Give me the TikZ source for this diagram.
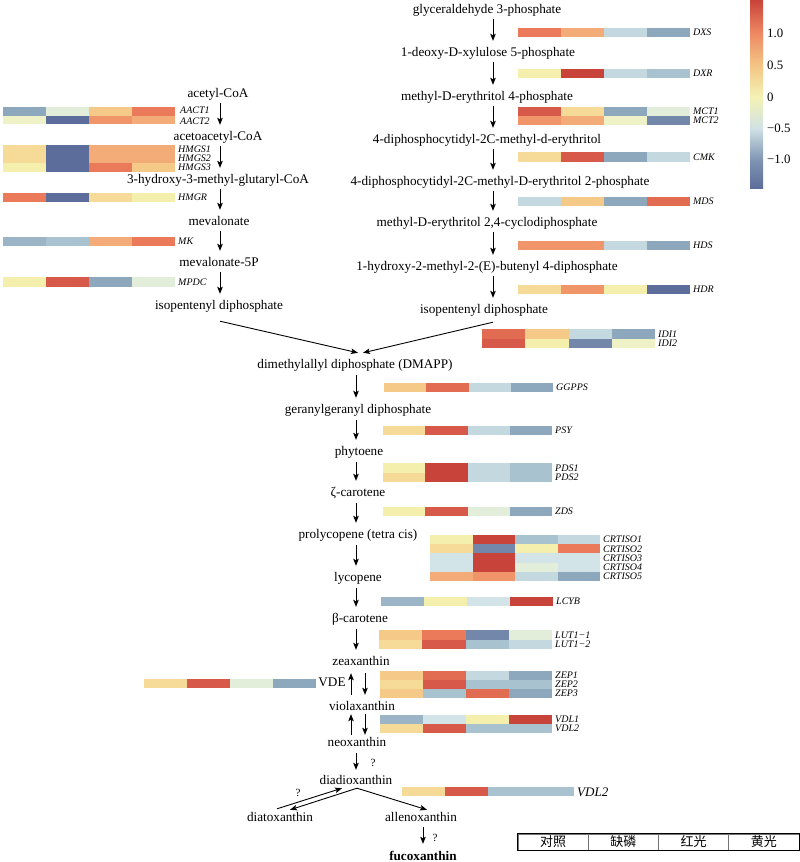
\documentclass[tikz,border=0pt]{standalone}
\usepackage{fontspec}
\setmainfont{Liberation Serif}
\newfontfamily\cjk{Noto Sans CJK SC}
\usetikzlibrary{arrows.meta}
\definecolor{R5}{HTML}{C8433A}
\definecolor{R4}{HTML}{D6594A}
\definecolor{R34}{HTML}{E26C52}
\definecolor{R3}{HTML}{EB7A5B}
\definecolor{O2}{HTML}{F0956A}
\definecolor{R2}{HTML}{F3AC78}
\definecolor{R1}{HTML}{F5C987}
\definecolor{Y1}{HTML}{F5DB97}
\definecolor{Y0}{HTML}{F5EFAD}
\definecolor{YG}{HTML}{EEF2C6}
\definecolor{G1}{HTML}{E3EEDA}
\definecolor{B1}{HTML}{D3E4E8}
\definecolor{B2}{HTML}{C3D8DF}
\definecolor{B3}{HTML}{A9C2CF}
\definecolor{B34}{HTML}{9BB5C7}
\definecolor{B4}{HTML}{8DA7BD}
\definecolor{B5}{HTML}{7287A9}
\definecolor{B6}{HTML}{5D6D9B}
\definecolor{cbB}{HTML}{7E94B2}
\definecolor{cbLB}{HTML}{D0E1E5}
\definecolor{cbY}{HTML}{F4F2B4}
\definecolor{cbO}{HTML}{F4C585}
\definecolor{cbR}{HTML}{EE8A64}
\pgfdeclareverticalshading{cbar}{100bp}{color(0bp)=(B6); color(25bp)=(B6); color(32.4bp)=(cbB); color(40.8bp)=(cbLB); color(49.2bp)=(cbY); color(57.6bp)=(cbO); color(66bp)=(cbR); color(75bp)=(R5); color(100bp)=(R5)}
\newcommand{\hmcells}[5]{%
  \foreach \cc [count=\ii from 0] in {#5}{\fill[\cc] ({#1+\ii*(#3)},#2) rectangle ++(#3,#4);}}
\newcommand{\hmrow}[7]{%
  \hmcells{#1}{#2}{#3}{#4}{#5}%
  \node[gene] (#7) at ({#1+4*(#3)+3},{#2+(#4)/2}) {#6};}
\tikzset{
  lbl/.style={font=\fontsize{13.2}{15}\selectfont, inner sep=1pt, text height=9pt, text depth=3pt},
  gene/.style={font=\fontsize{10}{11}\selectfont\itshape, inner sep=0pt, anchor=west},
  arr/.style={-{Stealth[length=7pt,width=5.5pt,inset=1.5pt]}, line width=0.9pt},
  qm/.style={font=\fontsize{11}{12}\selectfont, inner sep=0pt},
  cbl/.style={font=\fontsize{12.8}{14}\selectfont, inner sep=0pt, anchor=west},
  leg/.style={font=\fontsize{13}{15}\selectfont\cjk, draw=black!55, line width=0.6pt, minimum width=70.25pt, minimum height=16pt, inner sep=0pt},
}
\begin{document}
\begin{tikzpicture}[x=1pt,y=-1pt]
\useasboundingbox (0,0) rectangle (800,862);
\coordinate (colL) at (220,0);
\coordinate (colR) at (493,0);
\coordinate (colM) at (356,0);
\coordinate (colU) at (351,0);
\coordinate (colD) at (365,0);

% ---------- MVA pathway ----------
\node[lbl] (acCoA) at (218,94) {acetyl-CoA};
\node[lbl] (aaCoA) at (218,137) {acetoacetyl-CoA};
\node[lbl] (hmgCoA) at (218,180) {3-hydroxy-3-methyl-glutaryl-CoA};
\node[lbl] (mva) at (219,222) {mevalonate};
\node[lbl] (mvafp) at (219,263) {mevalonate-5P};
\node[lbl] (ippL) at (219,306) {isopentenyl diphosphate};

\hmcells{3}{107}{43}{8.5}{B4,G1,R1,R3}
\hmcells{3}{115.5}{43}{8.5}{YG,B6,O2,R2}
\node[gene] (gAACTa) at (180,110.5) {AACT1};
\node[gene] (gAACTb) at (180,121) {AACT2};
\hmrow{3}{145}{43}{9}{Y1,B6,R2,R2}{HMGS1}{gHMGSa}
\hmrow{3}{154}{43}{9}{Y1,B6,R2,R2}{HMGS2}{gHMGSb}
\hmrow{3}{163}{43}{9}{Y0,B6,R3,R1}{HMGS3}{gHMGSc}
\hmrow{3}{193}{43}{9}{R3,B6,Y1,Y0}{HMGR}{gHMGR}
\hmrow{3}{237}{43}{9}{B34,B3,R2,R3}{MK}{gMK}
\hmrow{3}{277}{43}{9.5}{Y0,R4,B4,G1}{MPDC}{gMPDC}

\foreach \a/\b in {acCoA/aaCoA, aaCoA/hmgCoA, hmgCoA/mva, mva/mvafp, mvafp/ippL}
  \draw[arr, shorten <=2pt, shorten >=5pt] (\a.south -| colL) -- (\b.north -| colL);

% ---------- MEP pathway ----------
\node[lbl] (gap) at (487,10) {glyceraldehyde 3-phosphate};
\node[lbl] (dxp) at (488,53) {1-deoxy-D-xylulose 5-phosphate};
\node[lbl] (mep) at (487,97) {methyl-D-erythritol 4-phosphate};
\node[lbl] (cdpme) at (487,140) {4-diphosphocytidyl-2C-methyl-d-erythritol};
\node[lbl] (cdpmep) at (500,182) {4-diphosphocytidyl-2C-methyl-D-erythritol 2-phosphate};
\node[lbl] (mecpp) at (487,223) {methyl-D-erythritol 2,4-cyclodiphosphate};
\node[lbl] (hmbpp) at (487,267) {1-hydroxy-2-methyl-2-(E)-butenyl 4-diphosphate};
\node[lbl] (ippR) at (484,310) {isopentenyl diphosphate};

\hmrow{517.5}{28}{43.1}{9}{R3,R2,B2,B4}{DXS}{gDXS}
\hmrow{517.5}{69}{43.1}{9}{Y0,R5,B2,B3}{DXR}{gDXR}
\hmrow{517.5}{107}{43.1}{9}{R4,Y1,B4,G1}{MCT1}{gMCTa}
\hmrow{517.5}{116}{43.1}{9}{O2,R2,YG,B5}{MCT2}{gMCTb}
\hmrow{517.5}{152}{43.1}{9.5}{Y1,R4,B4,B2}{CMK}{gCMK}
\hmrow{517.5}{197}{43.1}{9}{B2,R1,B4,R34}{MDS}{gMDS}
\hmrow{517.5}{241}{43.1}{9}{O2,O2,B2,B4}{HDS}{gHDS}
\hmrow{517.5}{285}{43.1}{9}{Y1,O2,Y0,B6}{HDR}{gHDR}
\hmrow{482}{329}{43.25}{9.5}{R34,R1,B2,B4}{IDI1}{gIDIa}
\hmrow{482}{338.5}{43.25}{9.5}{R4,Y0,B5,YG}{IDI2}{gIDIb}

\foreach \a/\b in {gap/dxp, dxp/mep, mep/cdpme, cdpme/cdpmep, cdpmep/mecpp, mecpp/hmbpp, hmbpp/ippR}
  \draw[arr, shorten <=2pt, shorten >=5pt] (\a.south -| colR) -- (\b.north -| colR);

% ---------- colour bar ----------
\shade[shading=cbar] (750,0) rectangle (763,188);
\node[cbl] (cb1) at (767,33) {1.0};
\node[cbl] (cb2) at (767,65) {0.5};
\node[cbl] (cb3) at (767,97) {0};
\node[cbl] (cb4) at (767,128) {\char"2212 0.5};
\node[cbl] (cb5) at (767,159) {\char"2212 1.0};

% ---------- carotenoid pathway ----------
\node[lbl] (dmapp) at (355,365) {dimethylallyl diphosphate (DMAPP)};
\node[lbl] (ggpp) at (358,410) {geranylgeranyl diphosphate};
\node[lbl] (phyt) at (359,452) {phytoene};
\node[lbl] (zcar) at (358,493) {ζ-carotene};
\node[lbl] (prolyc) at (358,535) {prolycopene (tetra cis)};
\node[lbl] (lyc) at (358,578) {lycopene};
\node[lbl] (bcar) at (360,619) {β-carotene};
\node[lbl] (zea) at (361,662) {zeaxanthin};
\node[lbl] (viola) at (362,707) {violaxanthin};
\node[lbl] (neo) at (357,743) {neoxanthin};
\node[lbl] (diadiox) at (356,781) {diadioxanthin};
\node[lbl] (diatox) at (280,818) {diatoxanthin};
\node[lbl] (allenox) at (421,818) {allenoxanthin};
\node[lbl, font=\fontsize{13.2}{15}\selectfont\bfseries] (fuco) at (423,857) {fucoxanthin};
\node[lbl] (vde) at (332,683) {VDE};

\draw[arr] ([yshift=-8pt]ippL.south -| colL) -- ([xshift=3pt,yshift=5pt]dmapp.north);
\draw[arr] ([yshift=-5pt]ippR.south -| colR) -- ([xshift=8pt,yshift=5pt]dmapp.north);

\foreach \a/\b in {dmapp/ggpp, ggpp/phyt, phyt/zcar, zcar/prolyc, prolyc/lyc, lyc/bcar, bcar/zea}
  \draw[arr, shorten <=3pt, shorten >=5pt] (\a.south -| colM) -- (\b.north -| colM);

\draw[arr, shorten <=4pt, shorten >=5pt] (zea.south -| colD) -- (viola.north -| colD);
\draw[arr, shorten <=5pt, shorten >=4pt] (viola.north -| colU) -- (zea.south -| colU);
\draw[arr, shorten <=0pt, shorten >=1pt] (viola.south -| colD) -- (neo.north -| colD);
\draw[arr, shorten <=1pt, shorten >=0pt] (neo.north -| colU) -- (viola.south -| colU);
\draw[arr, shorten <=3pt, shorten >=4pt] (neo.south -| colM) -- (diadiox.north -| colM);
\node[qm] (q1) at (373,763) {?};

\draw[arr] ([xshift=-3pt,yshift=2pt]diatox.north) -- ([xshift=-14pt]diadiox.south);
\draw[arr] ([xshift=1pt]diadiox.south) -- ([xshift=10pt,yshift=1pt]diatox.north);
\draw[arr] ([xshift=1pt]diadiox.south) -- ([xshift=6pt,yshift=1pt]allenox.north);
\node[qm] (q2) at (298,793) {?};
\draw[arr, shorten <=2pt, shorten >=6pt] ([xshift=2pt]allenox.south) -- ([xshift=0pt]fuco.north);
\node[qm] (q3) at (435,838) {?};

\hmrow{384}{383}{42.25}{9}{R1,R34,B2,B4}{GGPPS}{gGGPPS}
\hmrow{383}{426}{42.25}{9}{Y1,R4,B2,B4}{PSY}{gPSY}
\hmrow{383}{463}{42.25}{9.5}{Y0,R5,B2,B3}{PDS1}{gPDSa}
\hmrow{383}{472.5}{42.25}{9.5}{Y1,R5,B2,B3}{PDS2}{gPDSb}
\hmrow{383}{507}{42.25}{9}{Y0,R4,G1,B4}{ZDS}{gZDS}
\hmrow{430}{535}{42.5}{9.2}{Y0,R5,B3,B2}{CRTISO1}{gCRa}
\hmrow{430}{544.2}{42.5}{9.2}{Y1,B5,Y0,R3}{CRTISO2}{gCRb}
\hmrow{430}{553.4}{42.5}{9.2}{B1,R5,B1,B1}{CRTISO3}{gCRc}
\hmrow{430}{562.6}{42.5}{9.2}{B1,R5,G1,B1}{CRTISO4}{gCRd}
\hmrow{430}{571.8}{42.5}{9.2}{R2,O2,B2,B4}{CRTISO5}{gCRe}
\hmrow{381}{597}{43}{8.5}{B34,Y0,B1,R5}{LCYB}{gLCYB}
\hmrow{379}{630}{43.25}{9.5}{R1,R3,B5,G1}{LUT1\char"2212 1}{gLUTa}
\hmrow{379}{639.5}{43.25}{9.5}{Y1,R4,B3,B2}{LUT1\char"2212 2}{gLUTb}
\hmrow{380}{671}{43}{9}{R1,R34,B2,B4}{ZEP1}{gZEPa}
\hmrow{380}{680}{43}{9}{Y1,R4,B3,B3}{ZEP2}{gZEPb}
\hmrow{380}{689}{43}{9}{R1,B3,R34,B4}{ZEP3}{gZEPc}
\hmrow{380}{715}{43}{9}{B34,B1,Y0,R5}{VDL1}{gVDLa}
\hmrow{380}{724}{43}{9}{Y1,R4,B3,B3}{VDL2}{gVDLb}
\hmcells{144}{679}{43}{9}{Y1,R4,G1,B4}
\hmcells{402}{787}{43}{9}{Y1,R4,B3,B3}
\node[gene, font=\fontsize{13}{15}\selectfont\itshape] (gVDLbig) at (577,792) {VDL2};

% ---------- legend ----------
\node[leg] (l1) at (553.1,842) {对照};
\node[leg] (l2) at (623.4,842) {缺磷};
\node[leg] (l3) at (693.6,842) {红光};
\node[leg] (l4) at (763.9,842) {黄光};
\draw[line width=0.7pt] (l1.north west) rectangle (l4.south east);
\end{tikzpicture}
\end{document}
